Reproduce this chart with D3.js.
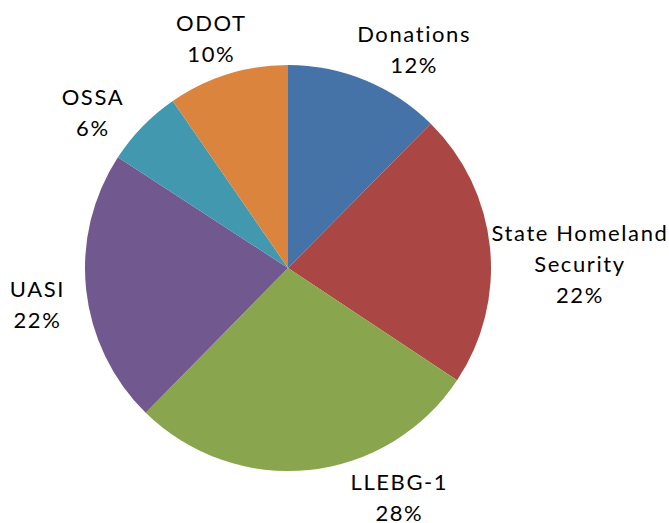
<!DOCTYPE html>
<html>
<head>
<meta charset="utf-8">
<script src="https://cdn.jsdelivr.net/npm/d3@7"></script>
<style>
  html, body { margin: 0; padding: 0; background: #fff; }
  svg { display: block; }
  .label { font-family: Lato, "Open Sans", sans-serif; font-size: 22px; fill: #000; letter-spacing: 1.6px; }
</style>
</head>
<body>
<svg id="chart" width="669" height="523"></svg>
<script>
const categories = ["Donations", "State Homeland Security", "LLEBG-1", "UASI", "OSSA", "ODOT"];
const values = [12.4, 21.9, 28.0, 21.8, 6.2, 9.6];
// how each label is broken into lines
const labelLines = [["Donations"], ["State Homeland", "Security"], ["LLEBG-1"], ["UASI"], ["OSSA"], ["ODOT"]];
const colors = ["#4572A7", "#AA4643", "#89A54E", "#71588F", "#4198AF", "#DB843D"];

// where Excel dropped each label (angle in degrees from 12 o'clock, distance from centre)
const labelAngle = [29.9, 89, 154, 262, 308.7, 341.6];
const labelDist = [253, 292, 254, 253, 250, 243];

const width = 669;
const height = 523;
const cx = 288;
const cy = 268;
const radius = 203;
const lineHeight = 31;

const svg = d3.select("#chart");
const total = d3.sum(values);

const data = categories.map((name, i) => ({ name, value: values[i], i }));

const pie = d3.pie().value((d) => d.value).sort(null);
const arc = d3.arc().innerRadius(0).outerRadius(radius);

const g = svg.append("g").attr("transform", `translate(${cx},${cy})`);

g.selectAll("path")
  .data(pie(data))
  .join("path")
  .attr("d", arc)
  .attr("fill", (d) => colors[d.data.i]);

const fmt = (v) => `${Math.round((v / total) * 100)}%`;

const labels = g.selectAll("text.label")
  .data(data)
  .join("text")
  .attr("class", "label")
  .attr("text-anchor", "middle")
  .attr("dominant-baseline", "central")
  .attr("transform", (d) => {
    const a = (labelAngle[d.i] * Math.PI) / 180;
    const x = Math.sin(a) * labelDist[d.i];
    const y = -Math.cos(a) * labelDist[d.i];
    return `translate(${x},${y})`;
  });

labels.each(function (d) {
  const lines = labelLines[d.i].concat([fmt(d.value)]);
  const start = -((lines.length - 1) * lineHeight) / 2;
  d3.select(this)
    .selectAll("tspan")
    .data(lines)
    .join("tspan")
    .attr("x", 0)
    .attr("y", (_, k) => start + k * lineHeight)
    .text((t) => t);
});
</script>
</body>
</html>
